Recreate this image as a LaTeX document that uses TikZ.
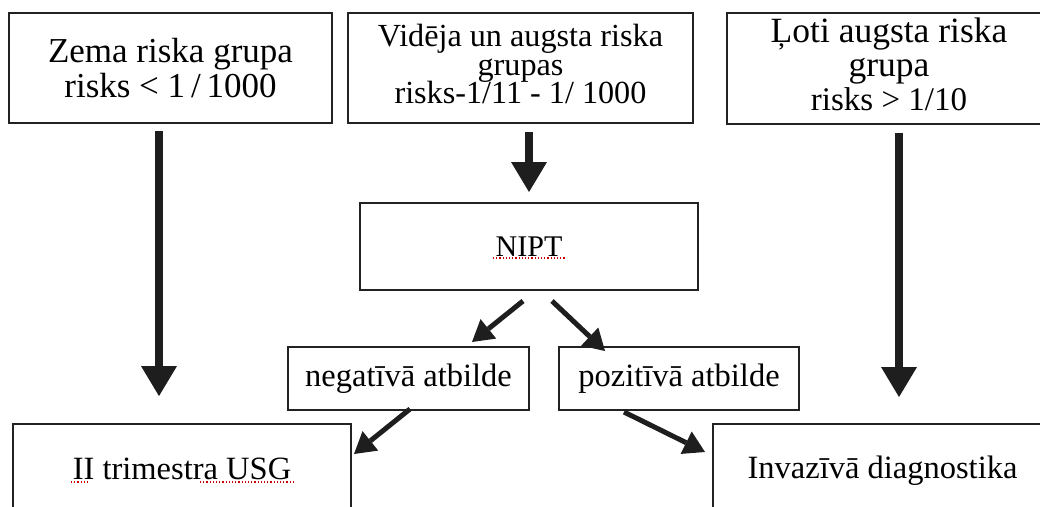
\documentclass[tikz,border=0pt]{standalone}
\usepackage{fontspec}
\setmainfont{Liberation Serif}
\usetikzlibrary{arrows.meta,calc}

\definecolor{ink}{HTML}{1E1E1E}
\definecolor{frame}{HTML}{222222}

% keep exact baseline distances even for tight line spacing
\newcommand{\fixedlines}{\lineskiplimit=-100pt\relax}

\tikzset{
  box/.style={draw=frame, line width=2pt, fill=white, inner sep=0pt,
    align=center, text=black},
  txt/.style={font=\fontsize{32.5}{34}\selectfont},
  bigarrow/.style={draw=ink, line width=8pt,
    -{Triangle[length=30pt,width=36pt,line width=0pt]}},
  smallarrow/.style={draw=ink, line width=5pt,
    -{Triangle[length=21pt,width=25pt,line width=0pt]}},
  spell/.style={draw=red!80!black, line width=1.2pt, dotted}
}

\begin{document}
\begin{tikzpicture}[x=1pt, y=-1pt]
  \useasboundingbox (0,0) rectangle (1040,506);
  \fill[white] (0,0) rectangle (1040,506);
  \clip (0,0) rectangle (1040,506);

  % risk groups
  \node[box, minimum width=323pt, minimum height=110pt,
        font=\fontsize{35}{35}\selectfont] (low) at (170.5,68)
       {Zema riska grupa\\risks < 1\,/\,1000};
  \node[box, minimum width=345pt, minimum height=110pt,
        font=\fontsize{32.2}{28.5}\selectfont\fixedlines] (mid) at (520.5,68)
       {Vidēja un augsta riska\\grupas\\risks-1/11 - 1/ 1000\rule[-8pt]{0pt}{8pt}};
  \node[box, minimum width=324pt, minimum height=111pt,
        font=\fontsize{35.5}{34}\selectfont\fixedlines] (high) at (889,68.5)
       {Ļoti augsta riska\\grupa\\{\fontsize{33}{34}\selectfont risks > 1/10}\rule[-9pt]{0pt}{9pt}};

  % screening
  \node[box, txt, minimum width=338pt, minimum height=87pt,
        font=\fontsize{30}{30}\selectfont] (nipt) at (529,246.5) {NIPT};
  \node[box, txt, minimum width=241pt, minimum height=63pt] (neg) at (408.5,378.5)
       {negatīvā atbilde};
  \node[box, txt, minimum width=240pt, minimum height=63pt] (pos) at (679,378.5)
       {pozitīvā atbilde};

  % outcomes
  \node[box, txt, minimum width=338pt, minimum height=90pt] (usg) at (182,469)
       {II trimestra USG};
  \node[box, txt, minimum width=339pt, minimum height=94pt] (inv) at (882.5,471)
       {Invazīvā diagnostika};

  % spell-check marks under the abbreviations
  \draw[spell] (493,258) -- (566,258);
  \draw[spell] (71,482) -- (89,482);
  \draw[spell] (200,482) -- (293,482);

  % vertical flows
  \draw[bigarrow] ($(low.south)+(-11.5,7)$) -- ($(usg.north)+(-23,-27)$);
  \draw[bigarrow] ($(mid.south)+(8.5,8)$) -- ($(nipt.north)+(0,-10)$);
  \draw[bigarrow] ($(high.south)+(10,8)$) -- ($(inv.north)+(16.5,-26)$);

  % NIPT results
  \draw[smallarrow] ($(nipt.south)+(-6,10)$) -- ($(neg.north)+(63.5,-4)$);
  \draw[smallarrow] ($(nipt.south)+(23,10)$) -- ($(pos.north)+(-74,5)$);
  \draw[smallarrow] ($(neg.south)+(1.5,-2)$) -- ($(usg.north east)+(2,31)$);
  \draw[smallarrow] ($(pos.south)+(-55,1)$) -- ($(inv.north west)+(-7,29)$);
\end{tikzpicture}
\end{document}
